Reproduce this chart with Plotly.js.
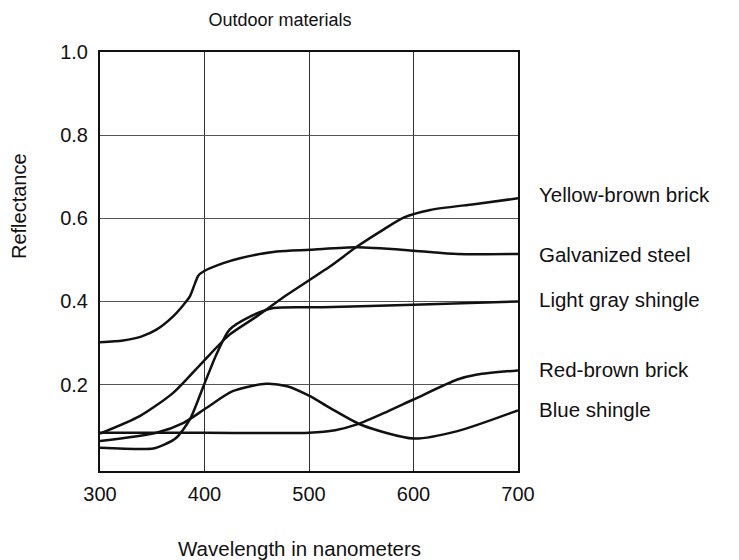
<!DOCTYPE html>
<html><head><meta charset="utf-8">
<script src="https://cdn.plot.ly/plotly-3.0.1.min.js"></script>
<style>html,body{margin:0;padding:0;background:#fff}#chart{width:739px;height:560px}</style>
</head><body><div id="chart"></div>
<script>
const seriesNames = ["Yellow-brown brick","Galvanized steel","Light gray shingle","Red-brown brick","Blue shingle"];
const yellowX = [300, 338, 370, 399, 424, 450, 479, 520, 546, 572, 591, 616, 658, 700];
const yellowY = [0.082, 0.124, 0.18, 0.256, 0.32, 0.364, 0.416, 0.484, 0.532, 0.574, 0.602, 0.62, 0.634, 0.648];
const galvX = [300, 322, 340, 354, 370, 380, 386, 391, 394, 399, 418, 434, 469, 501, 546, 600, 642, 700];
const galvY = [0.302, 0.306, 0.316, 0.332, 0.364, 0.392, 0.412, 0.444, 0.462, 0.472, 0.492, 0.504, 0.52, 0.524, 0.530, 0.522, 0.514, 0.514];
const grayX = [300, 351, 362, 373, 386, 399, 412, 424, 444, 466, 513, 600, 700];
const grayY = [0.048, 0.046, 0.056, 0.072, 0.116, 0.196, 0.276, 0.332, 0.364, 0.384, 0.386, 0.392, 0.40];
const redX = [300, 400, 500, 525, 546, 575, 600, 642, 661, 700];
const redY = [0.084, 0.084, 0.084, 0.09, 0.104, 0.135, 0.164, 0.212, 0.224, 0.234];
const blueX = [300, 354, 380, 402, 427, 459, 479, 501, 520, 551, 600, 642, 700];
const blueY = [0.064, 0.084, 0.108, 0.144, 0.184, 0.202, 0.196, 0.172, 0.144, 0.102, 0.07, 0.088, 0.138];
const labelY = [0.656, 0.512, 0.404, 0.236, 0.14];
const xTicks = [300, 400, 500, 600, 700];
const yTicks = [0.2, 0.4, 0.6, 0.8, 1.0];
const yTickText = ["0.2", "0.4", "0.6", "0.8", "1.0"];
const titleText = 'Outdoor materials';
const xTitleText = 'Wavelength in nanometers';
const yTitleText = 'Reflectance';

const xs = [yellowX, galvX, grayX, redX, blueX];
const ys = [yellowY, galvY, grayY, redY, blueY];
const traces = seriesNames.map((n, i) => ({
  x: xs[i], y: ys[i], name: n, type: 'scatter', mode: 'lines',
  line: {color: '#111', width: 2.5, shape: 'spline', smoothing: 0.7},
  hoverinfo: 'skip'
}));
const fam = '"Liberation Sans", Arial, sans-serif';
const F = (s) => ({family: fam, color: '#111', size: s});
const annotations = seriesNames.map((n, i) => ({
  text: n, xref: 'paper', yref: 'y', x: 1.045, y: labelY[i],
  xanchor: 'left', yanchor: 'middle', showarrow: false, font: F(20.5)
}));
annotations.push({text: xTitleText, xref: 'paper', yref: 'paper', x: (299 - 100) / 418, y: -(548 - 471) / 419,
  xanchor: 'center', yanchor: 'middle', showarrow: false, font: F(20.5)});
annotations.push({text: yTitleText, xref: 'paper', yref: 'paper', x: (19 - 100) / 418, y: (471 - 206) / 419,
  xanchor: 'center', yanchor: 'middle', textangle: -90, showarrow: false, font: F(20)});
const layout = {
  width: 739, height: 560,
  margin: {l: 100, r: 221, t: 52, b: 89},
  paper_bgcolor: '#fff', plot_bgcolor: '#fff',
  showlegend: false,
  font: F(18),
  title: {text: titleText, x: 280/739, xanchor: 'center', y: 1 - 20/560, yanchor: 'middle', font: F(18)},
  xaxis: {
    range: [300, 700], tickvals: xTicks, ticks: '', showgrid: true, gridcolor: '#333', gridwidth: 1,
    showline: true, mirror: true, linecolor: '#111', linewidth: 2, zeroline: false,
    tickfont: F(20), ticklabelstandoff: 4
  },
  yaxis: {
    range: [-0.008, 1.0], tickvals: yTicks, ticktext: yTickText, ticks: '', showgrid: true, gridcolor: '#555', gridwidth: 1,
    showline: true, mirror: true, linecolor: '#111', linewidth: 2, zeroline: false,
    tickfont: F(20), ticklabelstandoff: 6
  },
  annotations: annotations
};
Plotly.newPlot('chart', traces, layout, {staticPlot: true, displayModeBar: false});
</script></body></html>
